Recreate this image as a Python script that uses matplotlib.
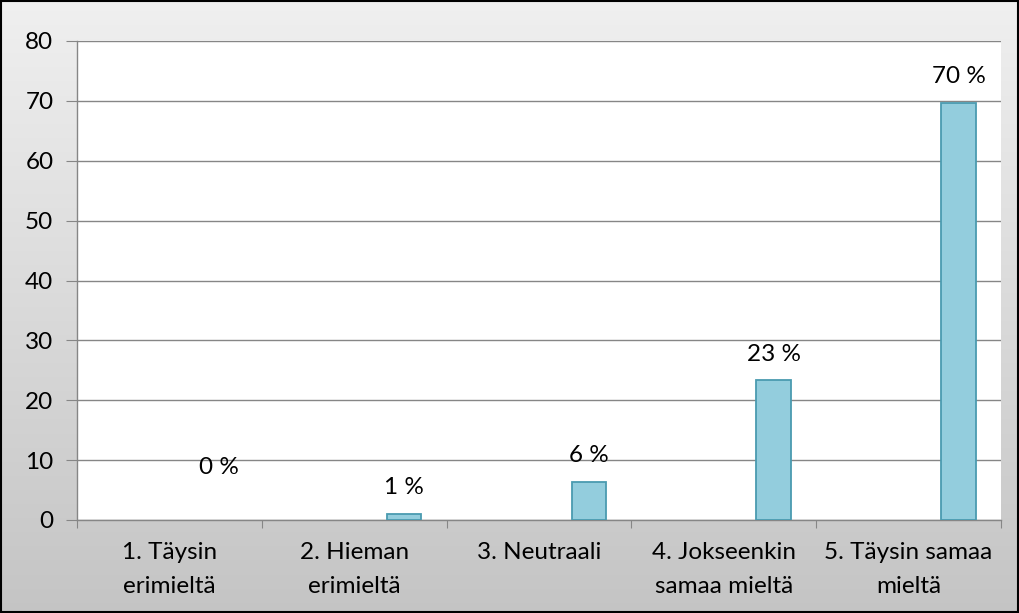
import numpy as np
import matplotlib
matplotlib.use('Agg')
import matplotlib.pyplot as plt

# Vastausvaihtoehdot ja osuudet (%)
kategoriat = ['1. Täysin\nerimieltä', '2. Hieman\nerimieltä', '3. Neutraali',
              '4. Jokseenkin\nsamaa mieltä', '5. Täysin samaa\nmieltä']
arvot = [0.0, 1.0, 6.3, 23.3, 69.7]
otsikot = ['0 %', '1 %', '6 %', '23 %', '70 %']
y_ticks = [0, 10, 20, 30, 40, 50, 60, 70, 80]

plt.rcParams['font.family'] = ['Lato', 'DejaVu Sans']
koko = 17.5

fig = plt.figure(figsize=(10.19, 6.13), dpi=100)

# taustan liukuväri
bg = fig.add_axes([0, 0, 1, 1], zorder=-10)
grad = np.linspace(0.94, 0.77, 256).reshape(-1, 1)
bg.imshow(np.dstack([grad, grad, grad]), aspect='auto', extent=[0, 1, 0, 1])
bg.set_xlim(0, 1)
bg.set_ylim(0, 1)
bg.axis('off')
fig.patches.append(plt.Rectangle((0.001, 0.002), 0.998, 0.996, transform=fig.transFigure,
                                 fill=False, edgecolor='black', linewidth=1.5))

ax = fig.add_axes([77 / 1019, 1 - 520 / 613, (1001 - 77) / 1019, (520 - 41) / 613])
ax.set_facecolor('white')

x = np.arange(len(kategoriat))
siirto = 0.27
reunat = ['none' if v == 0 else '#4a9bb0' for v in arvot]
ax.bar(x + 0.5 + siirto, arvot, width=0.1875, color='#93cddd',
       edgecolor=reunat, linewidth=1.3, zorder=3)

for xi, v, t in zip(x, arvot, otsikot):
    nosto = 38 if v == 0 else 19
    ax.annotate(t, (xi + 0.5 + siirto, v), xytext=(0, nosto), textcoords='offset points',
                ha='center', va='center', fontsize=koko, zorder=4)

ax.set_xlim(0, len(kategoriat))
ax.set_ylim(0, 80)
ax.set_yticks(y_ticks)
ax.set_yticklabels([str(v) for v in y_ticks], fontsize=koko)
ax.grid(axis='y', color='#868686', linewidth=1, zorder=0)

ax.set_xticks(np.arange(len(kategoriat) + 1))
ax.set_xticklabels([])
ax.set_xticks(x + 0.5, minor=True)
ax.set_xticklabels(kategoriat, minor=True, fontsize=koko, linespacing=1.75)
ax.tick_params(axis='x', which='minor', length=0, pad=16)
ax.tick_params(axis='x', which='major', length=6, color='#868686')
ax.tick_params(axis='y', length=8, color='#868686', pad=9)

for s in ['top', 'right']:
    ax.spines[s].set_visible(False)
for s in ['left', 'bottom']:
    ax.spines[s].set_color('#868686')
    ax.spines[s].set_linewidth(1)

fig.savefig('out.png', dpi=100)
